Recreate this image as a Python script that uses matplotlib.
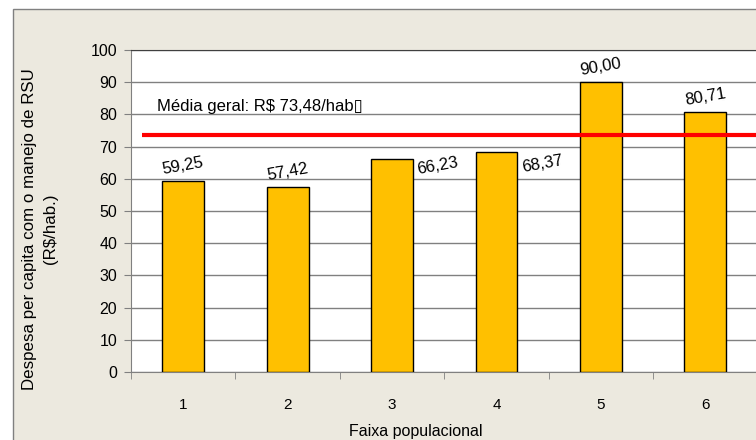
import matplotlib
matplotlib.use("Agg")
import matplotlib.pyplot as plt
from matplotlib.patches import Rectangle
from matplotlib.ticker import MultipleLocator, FixedLocator

plt.rcParams['font.family'] = ['Liberation Sans', 'DejaVu Sans']

categories = ["1", "2", "3", "4", "5", "6"]
values = [59.25, 57.42, 66.23, 68.37, 90.00, 80.71]
value_labels = ["59,25", "57,42", "66,23", "68,37", "90,00", "80,71"]
mean_value = 73.48
mean_label = "Média geral: R$ 73,48/hab\u25af"
ylabel = "Despesa per capita com o manejo de RSU\n(R$/hab.)"
xlabel = "Faixa populacional"

W, H = 756, 440
fig = plt.figure(figsize=(W / 100, H / 100), dpi=100)
fig.patch.set_facecolor("white")

# beige chart area
bg = Rectangle((13 / W, -0.05), 1.1, 1 - 9 / H + 0.05, transform=fig.transFigure,
               facecolor="#ECE9DF", edgecolor="#808080", linewidth=1, zorder=-10)
fig.patches.append(bg)

ax = fig.add_axes([131 / W, 1 - 372 / H, 1 - 131 / W + 0.002, (372 - 50) / H])
ax.set_zorder(2)
ax.set_facecolor("white")

x = list(range(1, len(categories) + 1))
ax.bar(x, values, width=0.4, color="#FFC000", edgecolor="black", linewidth=1, zorder=3)

ax.set_xlim(0.5, len(categories) + 0.5)
ax.set_ylim(0, 100)
ax.yaxis.set_major_locator(MultipleLocator(10))
ax.grid(axis="y", color="#808080", linewidth=1, zorder=1)
ax.set_axisbelow(True)

ax.set_xticks(x)
ax.set_xticklabels(categories)
ax.xaxis.set_minor_locator(FixedLocator([i + 0.5 for i in range(0, len(categories) + 1)]))
ax.tick_params(axis="x", which="major", length=0, pad=19, labelsize=11)
ax.tick_params(axis="x", which="minor", length=5, color="#808080", direction="out")
ax.tick_params(axis="y", length=5, color="#808080", pad=5, labelsize=11.5)

for s in ["left", "bottom"]:
    ax.spines[s].set_color("#808080")
ax.spines["top"].set_color("#404040")
ax.spines["right"].set_visible(False)

# mean line
ax.plot([0.606, len(categories) + 0.5], [mean_value, mean_value], color="#FF0000",
        linewidth=3, zorder=4, solid_capstyle="butt")
ax.text(0.75, 82.3, mean_label, fontsize=12, ha="left", va="center", zorder=5)

# value labels
offsets = [(0, 11), (0, 11), (33, -5), (33, -9), (0, 11), (0, 11)]
for xi, v, lab, off in zip(x, values, value_labels, offsets):
    ax.annotate(lab, (xi, v), xytext=off, textcoords="offset points",
                ha="center", va="center", rotation=10, fontsize=12, zorder=5)

fig.text(40 / W, 1 - 229 / H, ylabel, rotation=90, ha="center", va="center",
         multialignment="center", fontsize=12.2, linespacing=1.45)
fig.text(416 / W, 1 - 431 / H, xlabel, ha="center", va="center", fontsize=11.5)

fig.savefig("out.png", dpi=100)
